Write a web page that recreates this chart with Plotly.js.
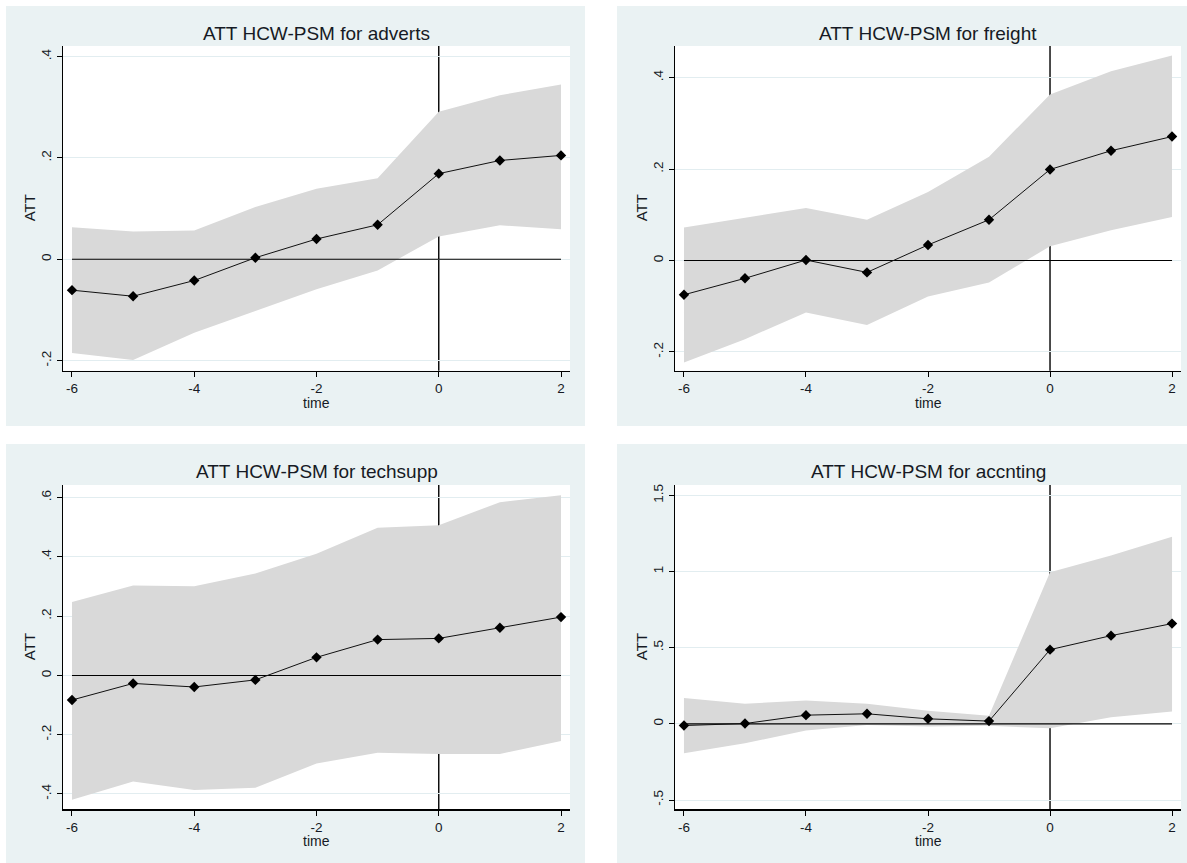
<!DOCTYPE html>
<html>
<head>
<meta charset="utf-8">
<script src="https://cdn.plot.ly/plotly-3.0.1.min.js"></script>
<style>
html,body{margin:0;padding:0;background:#ffffff;}
#chart{width:1187px;height:863px;}
</style>
</head>
<body>
<div id="chart"></div>
<script>
// ---- data ----
const times = [-6, -5, -4, -3, -2, -1, 0, 1, 2];
const xTickVals = [-6, -4, -2, 0, 2];
const xTickText = ['-6', '-4', '-2', '0', '2'];

const panelNames = ['adverts', 'freight', 'techsupp', 'accnting'];
const xTitle = 'time';
const yTitle = 'ATT';

const advertsATT   = [-0.061, -0.073, -0.042, 0.003, 0.040, 0.068, 0.169, 0.195, 0.205];
const advertsUpper = [0.063, 0.055, 0.057, 0.103, 0.139, 0.160, 0.291, 0.324, 0.345];
const advertsLower = [-0.185, -0.199, -0.145, -0.102, -0.059, -0.022, 0.045, 0.067, 0.059];

const freightATT   = [-0.075, -0.039, 0.001, -0.026, 0.034, 0.089, 0.199, 0.240, 0.271];
const freightUpper = [0.072, 0.094, 0.115, 0.089, 0.150, 0.227, 0.363, 0.414, 0.448];
const freightLower = [-0.223, -0.172, -0.114, -0.141, -0.079, -0.048, 0.031, 0.066, 0.095];

const techsuppATT   = [-0.083, -0.027, -0.039, -0.015, 0.061, 0.121, 0.125, 0.161, 0.197];
const techsuppUpper = [0.248, 0.304, 0.301, 0.344, 0.411, 0.499, 0.507, 0.585, 0.608];
const techsuppLower = [-0.420, -0.358, -0.387, -0.379, -0.297, -0.261, -0.265, -0.265, -0.221];

const accntingATT   = [-0.011, 0.002, 0.057, 0.066, 0.033, 0.018, 0.487, 0.579, 0.658];
const accntingUpper = [0.169, 0.132, 0.154, 0.132, 0.086, 0.053, 0.996, 1.105, 1.228];
const accntingLower = [-0.193, -0.127, -0.044, -0.007, -0.018, -0.013, -0.029, 0.044, 0.081];

const advertsTickVals = [-0.2, 0, 0.2, 0.4];
const advertsTickText = ['-.2', '0', '.2', '.4'];
const freightTickVals = [-0.2, 0, 0.2, 0.4];
const freightTickText = ['-.2', '0', '.2', '.4'];
const techsuppTickVals = [-0.4, -0.2, 0, 0.2, 0.4, 0.6];
const techsuppTickText = ['-.4', '-.2', '0', '.2', '.4', '.6'];
const accntingTickVals = [-0.5, 0, 0.5, 1, 1.5];
const accntingTickText = ['-.5', '0', '.5', '1', '1.5'];

const zeroRef = [0, 0];
const treatTime = 0;

// ---- layout geometry (pixels) ----
const W = 1187, H = 863;
const panels = [
  {att: advertsATT, up: advertsUpper, lo: advertsLower, tv: advertsTickVals, tt: advertsTickText,
   yr: [-0.22, 0.421], bg: [6, 585, 6, 426], plot: [63, 570, 46, 370.7], titleY: 33},
  {att: freightATT, up: freightUpper, lo: freightLower, tv: freightTickVals, tt: freightTickText,
   yr: [-0.241, 0.469], bg: [617, 1187, 6, 426], plot: [675, 1181, 46, 370.7], titleY: 33},
  {att: techsuppATT, up: techsuppUpper, lo: techsuppLower, tv: techsuppTickVals, tt: techsuppTickText,
   yr: [-0.452, 0.643], bg: [6, 585, 444, 863], plot: [63, 570, 485, 809.3], titleY: 471.5},
  {att: accntingATT, up: accntingUpper, lo: accntingLower, tv: accntingTickVals, tt: accntingTickText,
   yr: [-0.561, 1.568], bg: [617, 1187, 444, 863], plot: [675, 1181, 485, 809.3], titleY: 471.5}
];

const px = v => v / W;
const py = v => (H - v) / H;

const FONT = 'Liberation Sans, Arial, sans-serif';
const TXT = '#161a24';
const BG = '#EAF2F3';
const GRID = '#E2EDF0';
const BAND = '#D9D9D9';

const traces = [];
const shapes = [];
const annotations = [];
const layout = {
  width: W, height: H,
  margin: {l: 0, r: 0, t: 0, b: 0},
  paper_bgcolor: '#ffffff',
  plot_bgcolor: 'rgba(0,0,0,0)',
  showlegend: false,
  font: {family: FONT, color: TXT, size: 14}
};

// background rectangles first (panel region, then white plot region)
panels.forEach(p => {
  shapes.push({type: 'rect', xref: 'paper', yref: 'paper', layer: 'below',
    x0: px(p.bg[0]), x1: px(p.bg[1]), y0: py(p.bg[3]), y1: py(p.bg[2]),
    fillcolor: BG, line: {width: 0}});
});
panels.forEach(p => {
  shapes.push({type: 'rect', xref: 'paper', yref: 'paper', layer: 'below',
    x0: px(p.plot[0]), x1: px(p.plot[1]), y0: py(p.plot[3]), y1: py(p.plot[2]),
    fillcolor: '#ffffff', line: {width: 0}});
});

panels.forEach((p, i) => {
  const n = i + 1;
  const xa = 'x' + (n === 1 ? '' : n);
  const ya = 'y' + (n === 1 ? '' : n);
  const xkey = 'xaxis' + (n === 1 ? '' : n);
  const ykey = 'yaxis' + (n === 1 ? '' : n);

  // confidence band
  traces.push({
    type: 'scatter', mode: 'lines', xaxis: xa, yaxis: ya,
    x: times.concat(times.slice().reverse()),
    y: p.up.concat(p.lo.slice().reverse()),
    fill: 'toself', fillcolor: BAND, line: {width: 0, color: BAND},
    hoverinfo: 'skip'
  });
  // zero reference line
  traces.push({
    type: 'scatter', mode: 'lines', xaxis: xa, yaxis: ya,
    x: [times[0], times[times.length - 1]], y: zeroRef,
    line: {color: '#000000', width: 1.1}, hoverinfo: 'skip'
  });
  // ATT line with markers
  traces.push({
    type: 'scatter', mode: 'lines+markers', xaxis: xa, yaxis: ya,
    x: times, y: p.att,
    line: {color: '#111111', width: 1},
    marker: {symbol: 'diamond', size: 8, color: '#000000'},
    name: panelNames[i]
  });

  // vertical treatment line (behind band)
  shapes.push({type: 'line', xref: xa, yref: ya + ' domain', layer: 'below',
    x0: treatTime, x1: treatTime, y0: 0, y1: 1,
    line: {color: '#000000', width: 1.4}});

  layout[xkey] = {
    domain: [px(p.plot[0]), px(p.plot[1])],
    anchor: ya,
    range: [-6.147, 2.147],
    tickvals: xTickVals, ticktext: xTickText,
    ticks: 'outside', ticklen: 5, tickcolor: '#000000', tickwidth: 1,
    showline: true, linecolor: '#000000', linewidth: 1.2,
    showgrid: false, zeroline: false,
    tickfont: {size: 13.5, family: FONT, color: TXT}
  };
  layout[ykey] = {
    domain: [py(p.plot[3]), py(p.plot[2])],
    anchor: xa,
    range: p.yr,
    tickvals: p.tv, ticktext: p.tt,
    tickangle: -90,
    ticks: 'outside', ticklen: 5, tickcolor: '#000000', tickwidth: 1,
    showline: true, linecolor: '#000000', linewidth: 1.2,
    showgrid: true, gridcolor: GRID, gridwidth: 1,
    zeroline: false,
    tickfont: {size: 13.5, family: FONT, color: TXT}
  };

  // panel title
  annotations.push({
    xref: 'paper', yref: 'paper',
    x: px((p.plot[0] + p.plot[1]) / 2), y: py(p.titleY),
    xanchor: 'center', yanchor: 'middle', showarrow: false,
    text: 'ATT HCW-PSM for ' + panelNames[i],
    font: {size: 19, family: FONT, color: TXT}
  });
  // x axis title
  annotations.push({
    xref: 'paper', yref: 'paper',
    x: px((p.plot[0] + p.plot[1]) / 2), y: py(p.plot[3] + 32),
    xanchor: 'center', yanchor: 'middle', showarrow: false,
    text: xTitle, font: {size: 14, family: FONT, color: TXT}
  });
  // y axis title
  annotations.push({
    xref: 'paper', yref: 'paper',
    x: px(p.plot[0] - 34), y: py((p.plot[2] + p.plot[3]) / 2),
    xanchor: 'center', yanchor: 'middle', showarrow: false, textangle: -90,
    text: yTitle, font: {size: 15, family: FONT, color: TXT}
  });
});

layout.shapes = shapes;
layout.annotations = annotations;

Plotly.newPlot('chart', traces, layout, {displayModeBar: false, staticPlot: true});
</script>
</body>
</html>
